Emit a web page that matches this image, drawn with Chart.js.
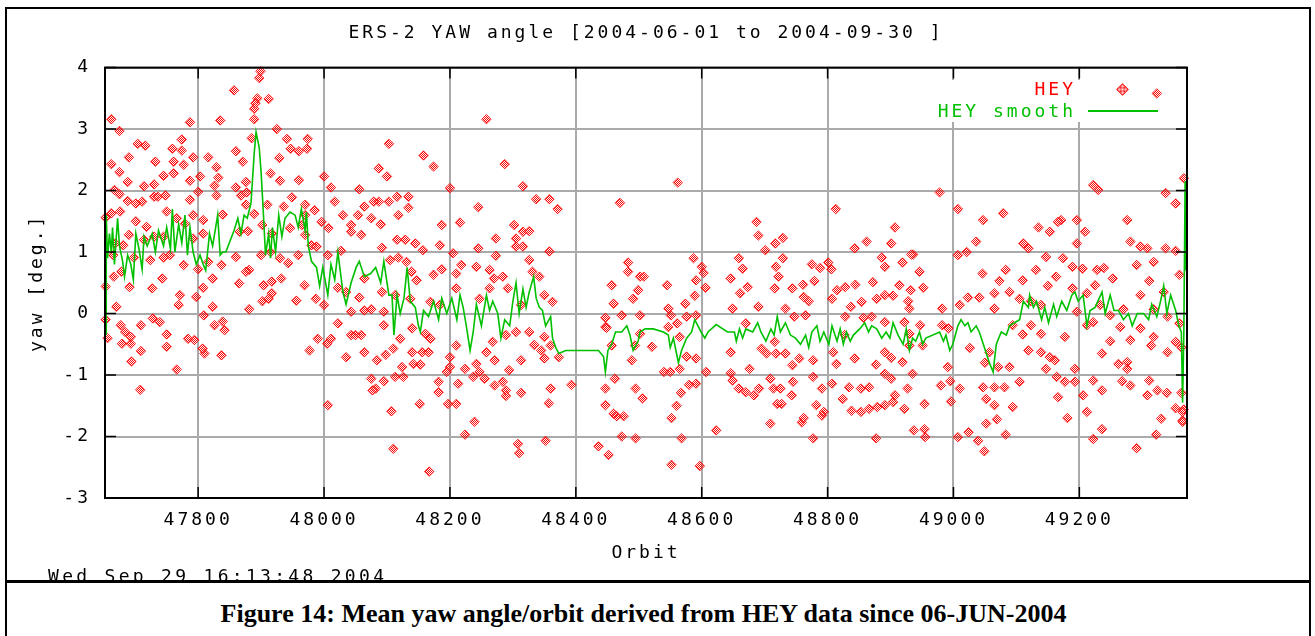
<!DOCTYPE html>
<html>
<head>
<meta charset="utf-8">
<script src="https://cdn.jsdelivr.net/npm/chart.js@4"></script>
<style>
    body { margin: 0; background: #fff; width: 1315px; height: 636px; position: relative; overflow: hidden; font-family: "DejaVu Sans Mono", monospace; }
    #marco { position: absolute; left: 5px; top: 7px; width: 1306px; height: 660px; border: 2px solid #000; box-sizing: border-box; }
    #separador { position: absolute; left: 5px; top: 580px; width: 1306px; height: 3px; background: #000; }
    #contenedor { position: absolute; left: 0; top: 0; width: 1315px; height: 580px; }
    .leyenda { position: absolute; font-size: 18px; line-height: 18px; letter-spacing: 3px; white-space: nowrap; }
    #rombo { position: absolute; left: 1118px; top: 85px; width: 7px; height: 7px; border: 1px solid #f00; transform: rotate(45deg);
             background: repeating-conic-gradient(#f00 0 25%, transparent 0 50%) 0 0 / 2px 2px; }
    #linea { position: absolute; left: 1088px; top: 110px; width: 70px; height: 2px; background: #00c000; }
    #fecha { position: absolute; left: 48px; top: 567px; height: 13px; overflow: hidden; font-size: 18px; line-height: 18px; letter-spacing: 3.3px; white-space: nowrap; }
    #pie { position: absolute; left: 0; top: 599px; width: 1287px; text-align: center; font: bold 26px "Liberation Serif", serif; }
</style>
</head>
<body>
<div id="marco"></div>
<div id="separador"></div>
<div id="contenedor"><canvas id="grafico" width="1315" height="580"></canvas></div>
<div class="leyenda" style="right:239px; top:80px; color:#f00;">HEY</div>
<div id="rombo"></div>
<div class="leyenda" style="right:239px; top:102px; color:#00c000;">HEY smooth</div>
<div id="linea"></div>
<div id="fecha">Wed Sep 29 16:13:48 2004</div>
<div id="pie">Figure 14: Mean yaw angle/orbit derived from HEY data since 06-JUN-2004</div>
<script>
const titulo = "ERS-2 YAW angle [2004-06-01 to 2004-09-30 ]";
const xMin = 47652;
const xMax = 49371;
const xTicks = [47800, 48000, 48200, 48400, 48600, 48800, 49000, 49200];
const yTicks = [-3, -2, -1, 0, 1, 2, 3, 4];

// HEY: [orbita, yaw]
const heyPuntos = [
    [47662,3.16],[47675,2.97],[47899,3.94],[47897,3.83],[47857,3.63],[47894,3.5],[47891,3.42],[47912,3.49],[47889,3.33],[47889,3.16],
    [47787,3.11],[47835,3.14],[47925,3.0],[47885,2.85],[47941,2.84],[47974,2.84],[47704,2.76],[47716,2.73],[47774,2.83],[47774,2.65],
    [47759,2.68],[47792,2.54],[47690,2.54],[47732,2.47],[47662,2.43],[47761,2.47],[47777,2.42],[47816,2.54],[47829,2.38],[47832,2.21],
    [47860,2.64],[47871,2.47],[47929,2.53],[47947,2.68],[47960,2.64],[47973,2.68],[47675,2.3],[47745,2.24],[47761,2.28],[47803,2.23],
    [47787,2.16],[47915,2.28],[47930,2.16],[47960,2.17],[48000,2.23],[47688,2.14],[47714,2.07],[47730,2.1],[47667,2.01],[47675,1.94],
    [48011,2.05],[48056,2.02],[47826,2.08],[47829,1.92],[47860,2.05],[47876,2.14],[47730,1.9],[47736,1.9],[47748,1.92],[47688,1.83],
    [47701,1.79],[47711,1.82],[47787,1.85],[47800,1.98],[47868,1.92],[47877,1.97],[47910,1.77],[47936,1.74],[47949,1.89],[47970,1.77],
    [47970,1.6],[47985,1.68],[48017,1.82],[48030,1.6],[48043,1.44],[48054,1.6],[48064,1.74],[48075,1.55],[48043,1.33],[48059,1.28],
    [48079,1.82],[47662,1.63],[47676,1.66],[47701,1.5],[47718,1.41],[47750,1.66],[47766,1.55],[47779,1.46],[47792,1.6],[47808,1.52],
    [47839,1.61],[47876,1.77],[47879,1.34],[47889,1.62],[47902,1.44],[47917,1.3],[47946,1.39],[47965,1.44],[47970,1.28],[47996,1.49],
    [48007,1.39],[47690,1.28],[47714,1.2],[47730,1.25],[47745,1.25],[47792,1.22],[47808,1.3],[47866,1.33],[47668,1.14],[47681,1.11],
    [47665,0.95],[47698,0.91],[47724,0.87],[47745,0.91],[47755,0.95],[47777,0.79],[47800,0.72],[47816,0.84],[47837,0.79],[47860,0.92],
    [47881,0.71],[47900,0.95],[47915,1.0],[47930,0.9],[47943,0.82],[47959,0.95],[47980,1.11],[47988,1.09],[48006,0.95],[48027,1.02],
    [47678,0.68],[47666,0.6],[47691,0.43],[47727,0.41],[47743,0.57],[47771,0.3],[47769,0.14],[47797,0.27],[47808,0.42],[47823,0.57],
    [47865,0.49],[47876,0.68],[47904,0.46],[47917,0.52],[47932,0.57],[47956,0.21],[47969,0.46],[47987,0.24],[47902,0.2],[47912,0.24],
    [47917,0.33],[47881,0.07],[48000,0.14],[48022,0.42],[48035,0.35],[48056,0.26],[48064,0.57],[48043,0.03],[48064,0.05],[48075,0.07],
    [47670,0.11],[47656,-0.4],[47677,-0.19],[47684,-0.3],[47693,-0.38],[47679,-0.49],[47693,-0.49],[47694,-0.78],[47709,-0.19],[47709,-0.61],
    [47728,-0.08],[47739,-0.14],[47750,-0.34],[47750,-0.54],[47766,-0.91],[47784,-0.41],[47794,-0.43],[47809,-0.03],[47807,-0.57],[47810,-0.65],
    [47823,0.11],[47826,-0.19],[47839,-0.13],[47842,-0.27],[47837,-0.68],[47708,-1.24],[47977,-0.6],[47990,-0.41],[48011,-0.41],[48005,-0.49],
    [48022,-0.16],[48035,-0.71],[48043,-0.35],[48050,-0.35],[48059,-0.35],[48064,-0.63],[48006,-1.49],[48075,-1.06],[48077,-1.25],[47653,1.56],
    [47653,0.44],[47653,-0.1],
    [48258,3.16],[48103,2.76],[48158,2.57],[48174,2.39],[48087,2.36],[48100,2.23],[48287,2.43],[48200,2.04],[48316,2.07],[48337,1.86],
    [48358,1.86],[48371,1.7],[48245,1.73],[48087,1.82],[48103,1.82],[48116,1.9],[48134,1.9],[48134,1.72],[48118,1.6],[48470,1.8],
    [48090,1.45],[48187,1.44],[48216,1.48],[48302,1.44],[48273,1.22],[48326,1.34],[48305,1.22],[48316,1.33],[48092,1.07],[48116,1.2],
    [48129,1.2],[48145,1.14],[48157,1.03],[48184,1.11],[48205,0.98],[48245,1.06],[48273,0.94],[48305,1.09],[48316,1.09],[48358,1.01],
    [48105,0.87],[48118,0.91],[48131,0.84],[48139,0.68],[48147,0.54],[48174,0.63],[48187,0.72],[48218,0.79],[48210,0.65],[48242,0.76],
    [48263,0.71],[48284,0.6],[48326,0.87],[48331,0.68],[48342,0.6],[48092,0.35],[48113,0.3],[48137,0.24],[48169,0.19],[48184,0.14],
    [48210,0.41],[48247,0.24],[48263,0.41],[48270,0.57],[48292,0.41],[48313,0.14],[48350,0.3],[48363,0.19],[48095,0.03],[48095,-0.19],
    [48121,-0.41],[48140,-0.24],[48161,-0.33],[48169,-0.41],[48166,-0.63],[48140,-0.63],[48156,-0.63],[48098,-0.67],[48084,-0.76],[48110,-0.57],
    [48142,-0.82],[48153,-0.83],[48124,-0.87],[48210,-0.52],[48200,-0.71],[48200,-0.87],[48224,-0.9],[48195,-0.95],[48242,-0.82],[48247,-0.95],
    [48258,-0.63],[48268,-0.46],[48271,-0.76],[48289,-0.35],[48305,-0.3],[48326,-0.3],[48313,-0.76],[48294,-0.92],[48334,-0.51],[48350,-0.38],
    [48345,-0.6],[48360,-0.52],[48350,-0.73],[48373,-0.71],[48095,-1.1],[48113,-1.03],[48126,-1.03],[48082,-1.22],[48182,-1.11],[48182,-1.28],
    [48213,-1.14],[48237,-1.03],[48255,-1.06],[48271,-1.17],[48284,-1.11],[48289,-1.25],[48289,-1.34],[48313,-1.29],[48360,-1.22],[48393,-1.16],
    [48152,-1.47],[48197,-1.47],[48210,-1.47],[48107,-1.59],[48357,-1.46],[48239,-1.76],[48224,-1.97],[48308,-2.12],[48310,-2.27],[48352,-2.07],
    [48110,-2.2],[48167,-2.57],[48447,-1.22],[48447,-1.49],[48436,-2.16],[48452,-2.3],[48460,-1.63],[48465,-1.67],[48476,-1.67],[48473,-2.0],
    [48495,-2.03],[48495,-1.22],[48506,-1.38],[48462,-1.06],[48447,-0.07],[48449,-0.23],[48460,0.16],[48457,0.46],[48473,-0.03],[48483,0.83],
    [48483,0.68],[48502,0.6],[48499,0.38],[48491,0.24],[48502,-0.03],[48489,-0.76],[48494,-0.52],[48457,-0.52],[48447,-0.22],
    [48562,2.13],[48687,1.49],[48690,1.27],[48701,1.03],[48717,1.14],[48729,1.23],[48813,1.7],[48907,1.4],[48862,1.17],[48901,1.14],
    [48843,1.06],[48933,0.96],[48587,0.9],[48600,0.76],[48603,0.66],[48659,0.9],[48665,0.73],[48729,0.9],[48718,0.76],[48775,0.8],
    [48788,0.74],[48801,0.83],[48806,0.72],[48886,0.91],[48891,0.76],[48919,0.83],[48508,0.6],[48591,0.54],[48646,0.57],[48722,0.6],
    [48545,0.46],[48606,0.42],[48673,0.43],[48661,0.33],[48716,0.41],[48744,0.41],[48761,0.47],[48779,0.53],[48815,0.38],[48828,0.43],
    [48844,0.47],[48872,0.51],[48914,0.46],[48589,0.29],[48574,0.16],[48762,0.27],[48770,0.2],[48807,0.24],[48837,0.11],[48854,0.19],
    [48878,0.24],[48891,0.3],[48904,0.29],[48928,0.2],[48547,0.08],[48576,-0.05],[48591,-0.03],[48551,-0.03],[48649,0.08],[48690,0.11],
    [48733,0.08],[48747,-0.05],[48765,-0.03],[48828,-0.05],[48857,-0.07],[48870,-0.05],[48891,-0.14],[48922,-0.14],[48502,-0.33],[48561,-0.16],
    [48547,-0.22],[48565,-0.38],[48591,-0.73],[48576,-0.7],[48521,-0.54],[48670,-0.16],[48646,-0.63],[48695,-0.57],[48703,-0.65],[48718,-0.65],
    [48716,-0.46],[48733,-0.65],[48755,-0.73],[48744,-0.84],[48777,-0.76],[48809,-0.63],[48814,-0.82],[48827,-0.35],[48843,-0.73],[48877,-0.83],
    [48891,-0.63],[48901,-0.72],[48891,-0.98],[48919,-0.79],[48550,-0.95],[48540,-0.95],[48565,-0.9],[48607,-0.95],[48591,-1.14],[48580,-1.16],
    [48567,-1.29],[48560,-1.5],[48552,-1.7],[48568,-2.03],[48552,-2.46],[48597,-2.48],[48623,-1.9],[48646,-0.97],[48649,-1.09],[48659,-1.22],
    [48670,-1.28],[48683,-1.33],[48691,-1.22],[48676,-0.9],[48709,-1.06],[48714,-1.22],[48725,-1.22],[48720,-1.47],[48727,-1.47],[48743,-1.33],
    [48745,-1.11],[48777,-1.03],[48782,-1.49],[48794,-1.6],[48791,-1.66],[48762,-1.7],[48759,-1.77],[48709,-1.79],[48777,-2.03],[48791,-1.22],
    [48807,-1.14],[48824,-1.39],[48834,-1.2],[48853,-1.22],[48866,-1.2],[48838,-1.58],[48853,-1.6],[48866,-1.55],[48879,-1.52],[48891,-1.49],
    [48904,-1.44],[48922,-1.55],[48877,-2.03],[48901,-1.06],[48907,-1.33],[48927,-1.22],[48937,-1.9],
    [48978,1.97],[49007,1.7],[49079,1.63],[49047,1.52],[49135,1.4],[49153,1.33],[49166,1.49],[49171,1.52],[49196,1.52],[49209,1.33],
    [49222,2.09],[49230,2.01],[49276,1.52],[49337,1.96],[49353,1.79],[49366,2.2],[49036,1.17],[49111,1.14],[49119,1.06],[49196,1.14],
    [49281,1.17],[49297,1.09],[49308,1.06],[49337,1.06],[49353,1.02],[48936,0.96],[49007,0.95],[49021,1.0],[48946,0.68],[49046,0.65],
    [49083,0.71],[49131,0.71],[49147,0.92],[49174,0.9],[49189,0.76],[49205,0.73],[49228,0.71],[49239,0.74],[49253,0.57],[49291,0.79],
    [49318,0.84],[49359,0.63],[48952,0.42],[48932,0.38],[49073,0.53],[49110,0.54],[49150,0.45],[49163,0.6],[49189,0.41],[49212,0.33],
    [49225,0.46],[49311,0.53],[49334,0.35],[48930,0.08],[48982,0.08],[49010,0.14],[49023,0.26],[49041,0.26],[49065,0.33],[49065,0.08],
    [49089,0.35],[49105,0.24],[49123,0.2],[49139,0.14],[49196,0.03],[49233,0.14],[49249,-0.03],[49270,0.07],[49297,0.3],[49318,0.07],
    [49340,-0.05],[48947,-0.19],[48982,-0.19],[48992,-0.24],[48930,-0.33],[49094,-0.19],[49110,-0.34],[49123,-0.19],[49139,-0.33],[49177,-0.38],
    [49212,-0.19],[49222,-0.14],[49249,-0.45],[49265,-0.22],[49281,-0.43],[49297,-0.24],[49318,-0.38],[49353,-0.46],[49359,-0.16],[48930,-0.52],
    [48951,-0.52],[49026,-0.56],[49050,-0.8],[49057,-0.63],[49071,-0.87],[49089,-0.87],[49119,-0.6],[49139,-0.63],[49153,-0.71],[49161,-0.76],
    [49147,-0.9],[49193,-0.9],[49236,-0.65],[49262,-0.82],[49276,-0.79],[49276,-0.9],[49314,-0.52],[49340,-0.63],[48935,-0.98],[48991,-0.87],
    [48980,-1.17],[48995,-1.1],[49010,-1.22],[48996,-1.43],[48954,-1.47],[49047,-1.2],[49065,-1.2],[49081,-1.2],[49052,-1.39],[49065,-1.49],
    [49105,-1.11],[49094,-1.52],[49164,-1.03],[49177,-1.11],[49193,-1.11],[49166,-1.36],[49206,-1.33],[49222,-1.09],[49236,-1.25],[49268,-1.1],
    [49281,-1.17],[49311,-1.09],[49308,-1.33],[49324,-1.25],[49339,-1.29],[49353,-1.54],[49364,-1.6],[49212,-1.6],[49181,-1.7],[49236,-1.88],
    [49222,-2.04],[49330,-1.71],[49322,-1.97],[49364,-1.74],[48954,-1.88],[48955,-2.01],[49007,-2.01],[49024,-1.93],[49039,-2.07],[49049,-2.24],
    [49052,-1.79],[49069,-1.72],[49083,-1.97],[49291,-2.19],[49323,3.58],[49362,-0.55],[49362,-1.29],[49366,-1.56],[49364,-1.76]
];

// HEY smooth: [orbita, yaw]
const heySuave = [
    [47654,-0.35],[47654,1.6],[47656,0.9],[47659,1.3],[47662,1.0],[47664,1.4],[47667,0.8],[47672,1.55],[47675,1.1],[47680,0.85],
    [47683,0.6],[47688,0.95],[47693,0.8],[47697,0.55],[47701,1.3],[47706,1.05],[47711,0.72],[47714,1.25],[47719,1.1],[47727,1.3],
    [47732,1.0],[47737,1.35],[47745,1.1],[47750,1.4],[47756,1.05],[47759,1.7],[47763,1.0],[47769,1.45],[47774,1.15],[47779,1.6],
    [47783,0.95],[47787,1.4],[47792,1.0],[47797,0.8],[47803,0.95],[47808,0.8],[47812,0.7],[47818,1.3],[47823,1.1],[47831,1.6],
    [47835,0.95],[47839,1.0],[47844,1.0],[47857,1.35],[47863,1.55],[47868,1.3],[47873,1.6],[47878,1.55],[47884,1.8],[47889,2.6],
    [47892,2.95],[47897,2.7],[47900,2.3],[47903,1.75],[47907,0.95],[47912,1.3],[47915,0.9],[47918,1.4],[47923,1.0],[47928,1.6],
    [47933,1.25],[47938,1.55],[47946,1.65],[47954,1.6],[47959,1.4],[47964,1.7],[47970,1.35],[47972,1.65],[47975,1.1],[47980,0.85],
    [47988,0.75],[47993,0.45],[47998,0.75],[48006,0.3],[48011,0.8],[48017,0.55],[48022,1.0],[48030,0.35],[48035,0.15],[48043,0.5],
    [48051,0.75],[48056,0.85],[48064,0.6],
    [48074,0.65],[48082,0.75],[48090,0.5],[48095,0.85],[48103,0.3],[48108,0.3],[48111,-0.35],[48116,0.3],[48121,0.0],[48127,0.25],
    [48132,0.75],[48137,0.2],[48145,0.1],[48150,-0.2],[48153,-0.3],[48158,0.05],[48166,-0.05],[48174,0.2],[48182,-0.1],[48187,0.25],
    [48195,0.0],[48203,0.25],[48211,-0.1],[48216,0.3],[48221,0.1],[48226,-0.2],[48232,-0.6],[48237,-0.3],[48242,0.15],[48250,-0.2],
    [48258,0.3],[48263,0.05],[48268,0.2],[48276,0.0],[48281,-0.4],[48287,-0.1],[48295,-0.2],[48300,0.2],[48305,0.5],[48310,0.0],
    [48316,0.4],[48321,0.1],[48326,0.35],[48333,0.6],[48337,0.25],[48342,0.1],[48347,0.05],[48352,-0.2],[48360,-0.05],[48363,-0.4],
    [48368,-0.55],[48373,-0.65],[48384,-0.6],[48415,-0.6],[48436,-0.6],[48444,-0.7],[48447,-0.95],[48451,-0.6],[48457,-0.5],[48463,-0.3],
    [48473,-0.3],[48481,-0.2],[48486,-0.35],[48491,-0.6],[48499,-0.45],
    [48502,-0.3],[48510,-0.25],[48523,-0.25],[48539,-0.3],[48547,-0.35],[48550,-0.55],[48555,-0.4],[48560,-0.65],[48563,-0.8],[48568,-0.6],
    [48576,-0.4],[48584,-0.3],[48589,-0.1],[48594,-0.2],[48599,-0.3],[48605,-0.4],[48610,-0.3],[48623,-0.18],[48641,-0.3],[48652,-0.3],
    [48655,-0.45],[48660,-0.25],[48665,-0.4],[48670,-0.25],[48681,-0.3],[48689,-0.15],[48694,-0.3],[48702,-0.45],[48710,-0.25],[48715,-0.35],
    [48720,-0.05],[48725,-0.3],[48733,-0.15],[48741,-0.35],[48749,-0.4],[48757,-0.5],[48765,-0.35],[48770,-0.55],[48775,-0.3],[48783,-0.2],
    [48788,-0.45],[48794,-0.3],[48802,-0.5],[48807,-0.2],[48815,-0.45],[48820,-0.25],[48825,-0.5],[48830,-0.3],[48836,-0.45],[48841,-0.35],
    [48851,-0.25],[48859,-0.15],[48865,-0.3],[48870,-0.2],[48878,-0.25],[48886,-0.4],[48893,-0.3],[48899,-0.4],[48904,-0.15],[48912,-0.35],
    [48920,-0.5],[48925,-0.25],
    [48930,-0.6],[48935,-0.4],[48940,-0.45],[48946,-0.3],[48951,-0.5],[48956,-0.4],[48978,-0.3],[48984,-0.45],[48988,-0.35],[48994,-0.6],
    [48999,-0.5],[49007,-0.2],[49012,-0.1],[49018,-0.2],[49023,-0.15],[49028,-0.3],[49036,-0.2],[49041,-0.3],[49049,-0.55],[49057,-0.8],
    [49063,-0.95],[49068,-0.5],[49076,-0.3],[49084,-0.35],[49089,-0.2],[49097,-0.15],[49105,-0.1],[49111,0.2],[49119,0.1],[49121,0.3],
    [49127,0.1],[49132,0.2],[49140,-0.1],[49145,0.1],[49151,-0.15],[49159,0.15],[49164,-0.05],[49172,0.2],[49180,0.05],[49188,0.3],
    [49193,0.35],[49198,0.2],[49206,0.3],[49212,-0.2],[49217,0.05],[49225,0.1],[49236,0.35],[49241,0.0],[49249,0.3],[49255,0.05],
    [49262,0.05],[49270,-0.1],[49278,0.0],[49284,-0.2],[49292,0.0],[49302,0.0],[49310,-0.1],[49315,0.15],[49323,-0.05],[49329,0.2],
    [49334,0.45],[49339,0.0],[49345,0.3],[49353,0.05],[49358,-0.2],[49362,-0.3],[49364,-1.45],[49366,-0.3],[49368,2.15],[49369,0.7]
];

const fuente = { family: "DejaVu Sans Mono", size: 18, weight: "normal" };

function crearPatron(ctx) {
    const c = document.createElement("canvas");
    c.width = 2;
    c.height = 2;
    const g = c.getContext("2d");
    g.fillStyle = "#ff0000";
    g.fillRect(0, 0, 1, 1);
    g.fillRect(1, 1, 1, 1);
    return ctx.createPattern(c, "repeat");
}

// letras separadas como en gnuplot
const espaciado = {
    id: "espaciado",
    beforeLayout(chart) { chart.ctx.letterSpacing = "3px"; },
    beforeDraw(chart) { chart.ctx.letterSpacing = "3px"; }
};

const marco = {
    id: "marco",
    beforeDatasetsDraw(chart) {
        // hueco blanco detras de la leyenda
        const c = chart.ctx;
        c.save();
        c.fillStyle = "#fff";
        c.fillRect(925, 80, 240, 42);
        c.restore();
    },
    afterDatasetsDraw(chart) {
        const c = chart.ctx;
        const a = chart.chartArea;
        const x = chart.scales.x;
        const y = chart.scales.y;
        const largo = 11;
        c.save();
        c.strokeStyle = "#000";
        c.lineWidth = 1.5;
        c.beginPath();
        xTicks.forEach(v => {
            const px = x.getPixelForValue(v);
            c.moveTo(px, a.bottom); c.lineTo(px, a.bottom - largo);
            c.moveTo(px, a.top); c.lineTo(px, a.top + largo);
        });
        yTicks.forEach(v => {
            const py = y.getPixelForValue(v);
            c.moveTo(a.left, py); c.lineTo(a.left + largo, py);
            c.moveTo(a.right, py); c.lineTo(a.right - largo, py);
        });
        c.stroke();
        c.lineWidth = 2;
        c.strokeRect(a.left, a.top, a.right - a.left, a.bottom - a.top);
        c.restore();
    }
};

const ctx = document.getElementById("grafico").getContext("2d");

new Chart(ctx, {
    type: "scatter",
    data: {
        datasets: [
            {
                label: "HEY smooth",
                data: heySuave.map(p => ({ x: p[0], y: p[1] })),
                showLine: true,
                borderColor: "#00c000",
                borderWidth: 1.6,
                pointRadius: 0,
                tension: 0,
                order: 0
            },
            {
                label: "HEY",
                data: heyPuntos.map(p => ({ x: p[0], y: p[1] })),
                pointStyle: "rectRot",
                pointRadius: 4.7,
                backgroundColor: crearPatron(ctx),
                borderColor: "rgba(255, 0, 0, 0.8)",
                borderWidth: 1,
                clip: false,
                order: 1
            }
        ]
    },
    options: {
        responsive: false,
        animation: false,
        events: [],
        layout: { padding: { left: 20, right: 128, top: 10, bottom: 13 } },
        plugins: {
            legend: { display: false },
            tooltip: { enabled: false },
            title: {
                display: true,
                fullSize: false,
                text: titulo,
                color: "#000",
                font: fuente,
                padding: { top: 13, bottom: 23 }
            }
        },
        scales: {
            x: {
                type: "linear",
                min: xMin,
                max: xMax,
                afterBuildTicks: eje => { eje.ticks = xTicks.map(v => ({ value: v })); },
                afterFit: eje => { eje.height = 69; },
                grid: { color: "#aaaaaa", lineWidth: 2, drawTicks: false },
                border: { display: false },
                ticks: { autoSkip: false, maxRotation: 0, padding: 12, color: "#000", font: fuente, callback: v => String(v) },
                title: { display: true, text: "Orbit", color: "#000", font: fuente, padding: { top: 4, bottom: 3 } }
            },
            y: {
                min: -3,
                max: 4,
                afterBuildTicks: eje => { eje.ticks = yTicks.map(v => ({ value: v })); },
                afterFit: eje => { eje.width = 85; },
                grid: { color: "#aaaaaa", lineWidth: 2, drawTicks: false },
                border: { display: false },
                ticks: { padding: 14, color: "#000", font: fuente },
                title: { display: true, text: "yaw [deg.]", color: "#000", font: fuente, padding: { top: 7, bottom: 4 } }
            }
        }
    },
    plugins: [espaciado, marco]
});
</script>
</body>
</html>
